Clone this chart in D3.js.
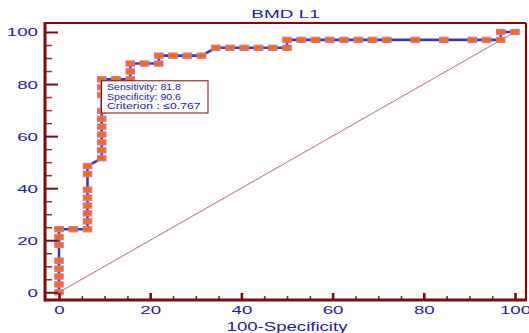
<!DOCTYPE html>
<html>
<head>
<meta charset="utf-8">
<script src="https://cdn.jsdelivr.net/npm/d3@7"></script>
<style>
  body { margin: 0; background: #fff; }
  svg { display: block; }
</style>
</head>
<body>
<svg id="chart" width="529" height="333"></svg>
<script>
// ROC curve for BMD L1
const chartTitle = "BMD L1";
const xAxisTitle = "100-Specificity";

// 100-Specificity (%) of each criterion point
const fpr = [
  0, 0, 0, 0, 0, 0, 0, 0,
  3.125, 6.25, 6.25, 6.25, 6.25, 6.25, 6.25, 6.25, 6.25,
  9.375, 9.375, 9.375, 9.375, 9.375, 9.375, 9.375, 9.375, 9.375, 9.375,
  12.5, 15.625, 15.625, 15.625, 18.75, 21.875, 21.875, 25, 28.125, 31.25,
  34.375, 37.5, 40.625, 43.75, 46.875, 50, 50,
  53.125, 56.25, 59.375, 62.5, 65.625, 68.75, 71.875, 78.125, 84.375,
  90.625, 93.75, 96.875, 96.875, 100
];
// Sensitivity (%) of each criterion point
const sensitivity = [
  0, 3.03, 6.06, 9.09, 12.12, 18.18, 21.21, 24.24,
  24.24, 24.24, 27.27, 30.30, 33.33, 36.36, 39.39, 45.45, 48.48,
  51.52, 54.55, 57.58, 60.61, 63.64, 66.67, 69.70, 75.76, 78.79, 81.82,
  81.82, 81.82, 84.85, 87.88, 87.88, 87.88, 90.91, 90.91, 90.91, 90.91,
  93.94, 93.94, 93.94, 93.94, 93.94, 93.94, 96.97,
  96.97, 96.97, 96.97, 96.97, 96.97, 96.97, 96.97, 96.97, 96.97,
  96.97, 96.97, 96.97, 100, 100
];

const majorTicks = [0, 20, 40, 60, 80, 100];
const minorTicks = [5, 10, 15, 25, 30, 35, 45, 50, 55, 65, 70, 75, 85, 90, 95];
const legendLines = ["Sensitivity: 81.8", "Specificity: 90.6", "Criterion : \u22640.767"];
const legendWidths = [74, 74, 93.5];

const axisColor = "#7d0b0b";
const textColor = "#1f2290";
const lineColor = "#3c3ca6";
const markerFill = "#ff6a00";
const markerStroke = "#c27ab4";
const fontFamily = "'Liberation Sans', Arial, sans-serif";
const stretch = 1.7;

const svg = d3.select("#chart");
const frame = { left: 45, top: 23, right: 526, bottom: 300 };

const x = d3.scaleLinear().domain([0, 100]).range([59, 515]);
const y = d3.scaleLinear().domain([0, 100]).range([292.3, 32]);

// title
svg.append("text")
  .attr("transform", `translate(${(frame.left + frame.right) / 2},18.3) scale(1.65,1)`)
  .attr("text-anchor", "middle")
  .attr("fill", textColor)
  .style("font", `11.5px ${fontFamily}`)
  .text(chartTitle);

// diagonal reference line
svg.append("line")
  .attr("x1", x(0)).attr("y1", y(0))
  .attr("x2", x(100)).attr("y2", y(100))
  .attr("stroke", "#a84848")
  .attr("stroke-width", 0.8);

// ROC curve
const pts = fpr.map((f, i) => [f, sensitivity[i]]);
svg.append("path")
  .datum(pts)
  .attr("fill", "none")
  .attr("stroke", lineColor)
  .attr("stroke-width", 2.6)
  .attr("stroke-linejoin", "round")
  .attr("d", d3.line().x(d => x(d[0])).y(d => y(d[1])));

// criterion markers
const mw = 8.4, mh = 5.2;
svg.append("g").selectAll("rect")
  .data(pts)
  .join("rect")
  .attr("x", d => x(d[0]) - mw / 2)
  .attr("y", d => y(d[1]) - mh / 2)
  .attr("width", mw)
  .attr("height", mh)
  .attr("fill", markerFill)
  .attr("stroke", markerStroke)
  .attr("stroke-width", 1.2);

// left axis: major and minor ticks pointing inward
const yMajor = svg.append("g")
  .attr("transform", `translate(${frame.left},0)`)
  .call(d3.axisLeft(y).tickValues(majorTicks).tickSize(-13).tickFormat(d3.format("d")));
yMajor.select(".domain").remove();
yMajor.selectAll(".tick line").attr("stroke", axisColor).attr("stroke-width", 2);
yMajor.selectAll(".tick text")
  .attr("x", -7 / stretch)
  .attr("dy", "0.36em")
  .attr("transform", `scale(${stretch},1)`)
  .attr("fill", textColor)
  .style("font", `11px ${fontFamily}`);

const yMinor = svg.append("g")
  .attr("transform", `translate(${frame.left},0)`)
  .call(d3.axisLeft(y).tickValues(minorTicks).tickSize(-7).tickFormat(""));
yMinor.select(".domain").remove();
yMinor.selectAll(".tick line").attr("stroke", axisColor).attr("stroke-width", 1.5).attr("stroke-opacity", 0.85);

// bottom axis
const xMajor = svg.append("g")
  .attr("transform", `translate(0,${frame.bottom})`)
  .call(d3.axisBottom(x).tickValues(majorTicks).tickSize(-7).tickFormat(d3.format("d")));
xMajor.select(".domain").remove();
xMajor.selectAll(".tick line").attr("stroke", axisColor).attr("stroke-width", 2.6);
xMajor.selectAll(".tick text")
  .attr("y", 14.3)
  .attr("dy", 0)
  .attr("transform", `scale(${stretch},1)`)
  .attr("fill", textColor)
  .style("font", `11px ${fontFamily}`);

const xMinor = svg.append("g")
  .attr("transform", `translate(0,${frame.bottom})`)
  .call(d3.axisBottom(x).tickValues(minorTicks).tickSize(-4).tickFormat(""));
xMinor.select(".domain").remove();
xMinor.selectAll(".tick line").attr("stroke", axisColor).attr("stroke-width", 1.6).attr("stroke-opacity", 0.9);

// plot frame
svg.append("line").attr("x1", frame.left).attr("x2", frame.right).attr("y1", frame.top).attr("y2", frame.top)
  .attr("stroke", axisColor).attr("stroke-width", 2);
svg.append("line").attr("x1", frame.right).attr("x2", frame.right).attr("y1", frame.top).attr("y2", frame.bottom)
  .attr("stroke", axisColor).attr("stroke-width", 2.2);
svg.append("line").attr("x1", frame.left).attr("x2", frame.left).attr("y1", frame.top - 1).attr("y2", frame.bottom + 1.5)
  .attr("stroke", axisColor).attr("stroke-width", 3);
svg.append("line").attr("x1", frame.left).attr("x2", frame.right + 1).attr("y1", frame.bottom).attr("y2", frame.bottom)
  .attr("stroke", axisColor).attr("stroke-width", 3);

// x axis title
svg.append("text")
  .attr("transform", `translate(287,331) scale(1.55,1)`)
  .attr("text-anchor", "middle")
  .attr("fill", textColor)
  .style("font", `12px ${fontFamily}`)
  .text(xAxisTitle);

// criterion legend box
const legend = svg.append("g");
legend.append("rect")
  .attr("x", 101.5).attr("y", 80.8)
  .attr("width", 106.5).attr("height", 32.2)
  .attr("fill", "#fff")
  .attr("stroke", axisColor)
  .attr("stroke-width", 1);
legend.selectAll("text")
  .data(legendLines)
  .join("text")
  .attr("x", 107)
  .attr("y", (d, i) => 90.2 + i * 9.4)
  .attr("textLength", (d, i) => legendWidths[i])
  .attr("lengthAdjust", "spacingAndGlyphs")
  .attr("fill", textColor)
  .style("font", `9px ${fontFamily}`)
  .text(d => d);
</script>
</body>
</html>
